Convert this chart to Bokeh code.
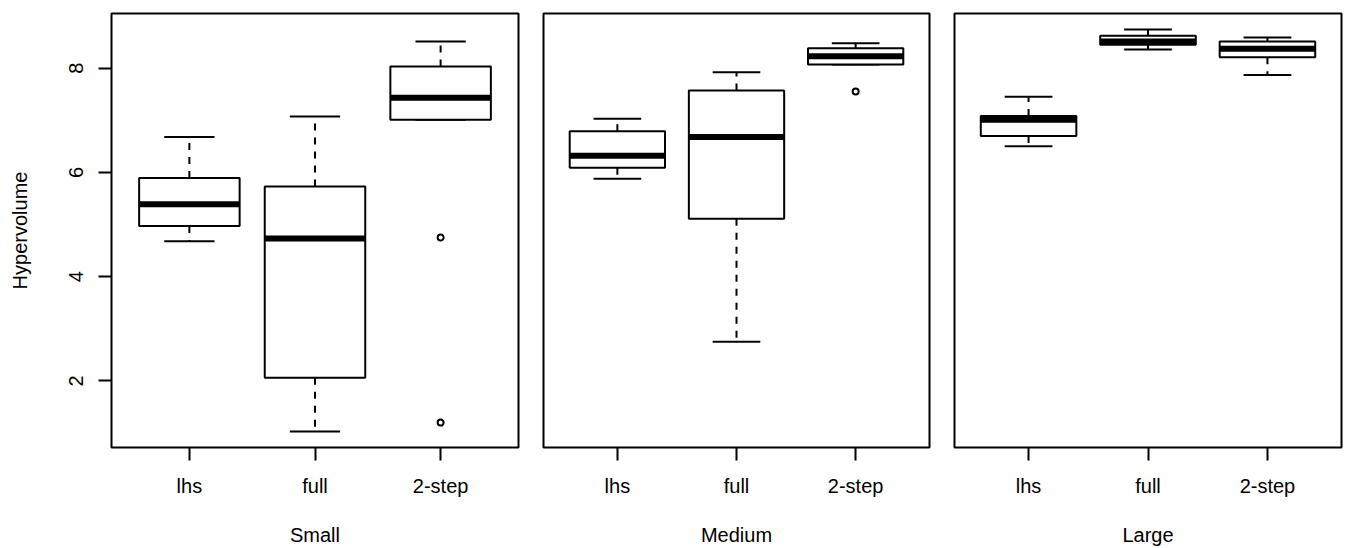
from bokeh.plotting import figure
from bokeh.layouts import row
from bokeh.models import Range1d, FixedTicker, ColumnDataSource
from bokeh.embed import file_html
from bokeh.resources import INLINE

# ---- data ----
methods = ["lhs", "full", "2-step"]
sizes = ["Small", "Medium", "Large"]
y_ticks = [2, 4, 6, 8]

small_lo = [4.68, 1.03, 7.01]
small_q1 = [4.97, 2.06, 7.01]
small_med = [5.39, 4.73, 7.43]
small_q3 = [5.89, 5.73, 8.03]
small_hi = [6.68, 7.07, 8.51]
small_out_method = ["2-step", "2-step"]
small_out_value = [4.75, 1.20]

medium_lo = [5.88, 2.75, 8.07]
medium_q1 = [6.09, 5.11, 8.07]
medium_med = [6.32, 6.68, 8.23]
medium_q3 = [6.79, 7.57, 8.38]
medium_hi = [7.03, 7.92, 8.48]
medium_out_method = ["2-step"]
medium_out_value = [7.55]

large_lo = [6.50, 8.36, 7.87]
large_q1 = [6.70, 8.45, 8.21]
large_med = [7.01, 8.51, 8.37]
large_q3 = [7.08, 8.62, 8.51]
large_hi = [7.45, 8.74, 8.59]
large_out_method = []
large_out_value = []

FONT = "Liberation Sans"
FS = "20px"

all_vals = (small_lo + small_hi + small_out_value + medium_lo + medium_hi +
            medium_out_value + large_lo + large_hi + large_out_value)
vmin, vmax = min(all_vals), max(all_vals)
pad = 0.04 * (vmax - vmin)
Y0, Y1 = vmin - pad, vmax + pad

H = 548


def make_panel(name, lo, q1, med, q3, hi, out_m, out_v, width, bl, br, show_y):
    p = figure(width=width, height=H,
               x_range=Range1d(0.38, 3.62), y_range=Range1d(Y0, Y1),
               output_backend="svg", toolbar_location=None,
               min_border_left=bl, min_border_right=br,
               min_border_top=13, min_border_bottom=100,
               y_axis_location="left" if show_y else None)
    p.xgrid.grid_line_color = None
    p.ygrid.grid_line_color = None
    p.outline_line_color = "black"
    p.outline_line_width = 2
    p.outline_line_alpha = 1.0
    p.background_fill_color = "white"
    p.border_fill_color = "white"

    xs = [methods.index(m) + 1 for m in methods]
    src = ColumnDataSource(dict(
        x=xs, lo=lo, q1=q1, med=med, q3=q3, hi=hi,
        bl=[x - 0.4 for x in xs], br=[x + 0.4 for x in xs],
        cl=[x - 0.2 for x in xs], cr=[x + 0.2 for x in xs],
    ))
    # whiskers
    p.segment(x0="x", y0="q3", x1="x", y1="hi", source=src,
              line_color="black", line_width=2, line_dash="7 7")
    p.segment(x0="x", y0="q1", x1="x", y1="lo", source=src,
              line_color="black", line_width=2, line_dash="7 7")
    # staples
    p.segment(x0="cl", y0="hi", x1="cr", y1="hi", source=src,
              line_color="black", line_width=2)
    p.segment(x0="cl", y0="lo", x1="cr", y1="lo", source=src,
              line_color="black", line_width=2)
    # boxes
    p.quad(left="bl", right="br", bottom="q1", top="q3", source=src,
           fill_color="white", line_color="black", line_width=2)
    # medians
    p.segment(x0="bl", y0="med", x1="br", y1="med", source=src,
              line_color="black", line_width=6, line_cap="butt")
    # outliers
    if out_v:
        ox = [methods.index(m) + 1 for m in out_m]
        p.scatter(ox, out_v, marker="circle", size=6, fill_color=None,
                  line_color="black", line_width=2)

    ax = p.xaxis[0]
    ax.ticker = FixedTicker(ticks=[1, 2, 3])
    ax.major_label_overrides = {1: methods[0], 2: methods[1], 3: methods[2]}
    ax.axis_line_color = None
    ax.major_tick_in = 0
    ax.major_tick_out = 13
    ax.major_tick_line_width = 2
    ax.major_tick_line_color = "black"
    ax.minor_tick_line_color = None
    ax.major_label_standoff = 14
    ax.major_label_text_font = FONT
    ax.major_label_text_font_size = FS
    ax.major_label_text_color = "black"
    ax.axis_label = name
    ax.axis_label_standoff = 24
    ax.axis_label_text_font = FONT
    ax.axis_label_text_font_size = FS
    ax.axis_label_text_font_style = "normal"
    ax.axis_label_text_color = "black"

    if show_y:
        ay = p.yaxis[0]
        ay.ticker = FixedTicker(ticks=y_ticks)
        ay.axis_line_color = None
        ay.major_tick_in = 0
        ay.major_tick_out = 13
        ay.major_tick_line_width = 2
        ay.major_tick_line_color = "black"
        ay.minor_tick_line_color = None
        ay.major_label_orientation = "vertical"
        ay.major_label_standoff = 15
        ay.major_label_text_font = FONT
        ay.major_label_text_font_size = FS
        ay.major_label_text_color = "black"
        ay.axis_label = "Hypervolume"
        ay.axis_label_standoff = 36
        ay.axis_label_text_font = FONT
        ay.axis_label_text_font_size = FS
        ay.axis_label_text_font_style = "normal"
        ay.axis_label_text_color = "black"
    return p


p1 = make_panel(sizes[0], small_lo, small_q1, small_med, small_q3, small_hi,
                small_out_method, small_out_value, 530, 111, 12, True)
p2 = make_panel(sizes[1], medium_lo, medium_q1, medium_med, medium_q3, medium_hi,
                medium_out_method, medium_out_value, 412, 13, 13, False)
p3 = make_panel(sizes[2], large_lo, large_q1, large_med, large_q3, large_hi,
                large_out_method, large_out_value, 403, 12, 4, False)

layout = row(p1, p2, p3)
open("out.html", "w").write(file_html(layout, INLINE))
